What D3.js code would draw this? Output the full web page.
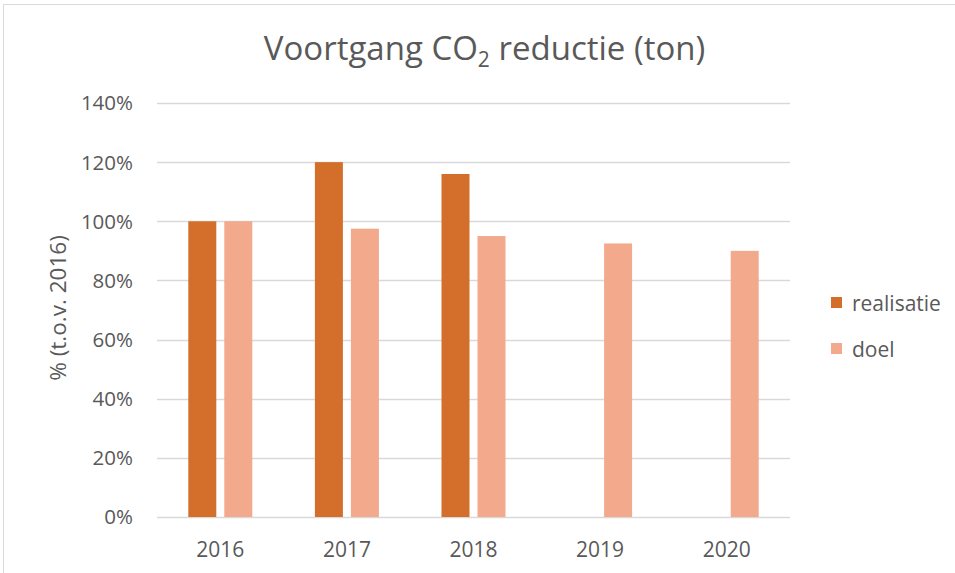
<!DOCTYPE html>
<html>
<head>
    <script src="https://d3js.org/d3.v7.min.js"></script>
    <style>
        body { margin: 0; background: #fff; }
        text { font-family: "Open Sans", sans-serif; fill: #595959; }
    </style>
</head>
<body>
    <div id="svg"></div>
    <script>
        // data
        var years = ["2016", "2017", "2018", "2019", "2020"];
        var seriesNames = ["realisatie", "doel"];
        var realisatie = [100, 120, 116, null, null];
        var doel = [100, 97.5, 95, 92.5, 90];
        var yTicks = [0, 20, 40, 60, 80, 100, 120, 140];
        var colors = ["#d36f2b", "#f3a98b"];

        var width = 955, height = 573;
        var margin = { top: 103, left: 157, right: 165, bottom: 56 };

        var svg = d3.select("#svg")
            .append("svg")
            .attr("width", width)
            .attr("height", height);

        // chart frame
        svg.append("rect")
            .attr("x", 3.5).attr("y", 4.5)
            .attr("width", 1000).attr("height", 1000)
            .style("fill", "none")
            .style("stroke", "#d9d9d9");

        var x = d3.scaleBand()
            .domain(years)
            .range([margin.left, width - margin.right]);

        var y = d3.scaleLinear()
            .domain([0, 140])
            .range([height - margin.bottom, margin.top]);

        // gridlines
        svg.selectAll(".grid")
            .data(yTicks)
            .enter()
            .append("line")
            .attr("x1", x.range()[0])
            .attr("x2", x.range()[1])
            .attr("y1", function (d) { return Math.round(y(d)) + 0.5; })
            .attr("y2", function (d) { return Math.round(y(d)) + 0.5; })
            .style("stroke", "#d9d9d9")
            .style("stroke-width", 1.3);

        // y tick labels
        svg.selectAll(".ytick")
            .data(yTicks)
            .enter()
            .append("text")
            .attr("x", 133)
            .attr("y", function (d) { return y(d); })
            .attr("dy", "0.36em")
            .attr("text-anchor", "end")
            .style("font-size", "20.5px")
            .text(function (d) { return d + "%"; });

        // x labels
        svg.selectAll(".xtick")
            .data(years)
            .enter()
            .append("text")
            .attr("x", function (d) { return x(d) + x.bandwidth() / 2; })
            .attr("y", 557)
            .attr("text-anchor", "middle")
            .style("font-size", "21px")
            .text(function (d) { return d; });

        // bars
        var barW = 28, gap = 8;
        var series = [realisatie, doel];
        series.forEach(function (vals, s) {
            svg.selectAll(".bar" + s)
                .data(years.map(function (yr, i) { return { year: yr, v: vals[i] }; })
                    .filter(function (d) { return d.v != null; }))
                .enter()
                .append("rect")
                .attr("x", function (d) {
                    var c = x(d.year) + x.bandwidth() / 2;
                    return s === 0 ? c - gap / 2 - barW : c + gap / 2;
                })
                .attr("y", function (d) { return y(d.v); })
                .attr("width", barW)
                .attr("height", function (d) { return y(0) - y(d.v); })
                .style("fill", colors[s]);
        });

        // title
        var title = svg.append("text")
            .attr("x", (262 + 707) / 2)
            .attr("y", 60)
            .attr("text-anchor", "middle")
            .style("font-size", "33px");
        title.append("tspan").text("Voortgang CO");
        title.append("tspan").attr("dy", 7).style("font-size", "21px").text("2");
        title.append("tspan").attr("dy", -7).text(" reductie (ton)");

        // y axis title
        svg.append("text")
            .attr("transform", "translate(66,308) rotate(-90)")
            .attr("text-anchor", "middle")
            .style("font-size", "22.5px")
            .text("% (t.o.v. 2016)");

        // legend
        var legend = svg.selectAll(".legend")
            .data(seriesNames)
            .enter()
            .append("g")
            .attr("transform", function (d, i) { return "translate(831," + (297 + i * 46) + ")"; });
        legend.append("rect")
            .attr("width", 11).attr("height", 11)
            .style("fill", function (d, i) { return colors[i]; });
        legend.append("text")
            .attr("x", 21)
            .attr("y", 6)
            .attr("dy", "0.36em")
            .style("font-size", "21px")
            .text(function (d) { return d; });
    </script>
</body>
</html>
